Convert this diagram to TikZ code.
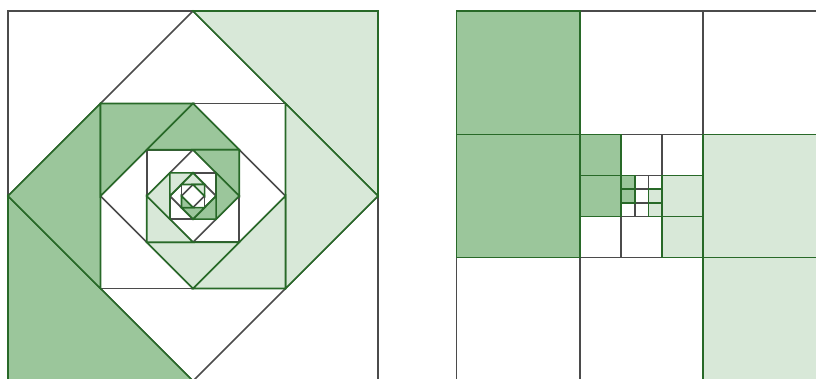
\documentclass[tikz,border=0pt]{standalone}
\usepackage{tikz}
\definecolor{darkfill}{RGB}{155,198,155}
\definecolor{lightfill}{RGB}{216,232,216}
\definecolor{greenline}{RGB}{40,105,40}
\definecolor{greyline}{RGB}{75,75,75}
\begin{document}
\begin{tikzpicture}[line width=1pt, line join=miter,
  grey/.style={draw=greyline},
  dk/.style={fill=darkfill, draw=greenline},
  lt/.style={fill=lightfill, draw=greenline}]
\useasboundingbox (-0.173,0.065) rectangle (17.47,8.238);

%% left: nested squares and diamonds
\draw[grey] (0,0) rectangle (8,8);
\draw[grey] (4,8) -- (8,4) -- (4,0) -- (0,4) -- cycle;
\draw[grey] (2,2) rectangle (6,6);
\draw[grey] (4,6) -- (6,4) -- (4,2) -- (2,4) -- cycle;
\draw[grey] (3,3) rectangle (5,5);
\draw[grey] (4,5) -- (5,4) -- (4,3) -- (3,4) -- cycle;
\draw[grey] (3.5,3.5) rectangle (4.5,4.5);
\draw[grey] (4,4.5) -- (4.5,4) -- (4,3.5) -- (3.5,4) -- cycle;
\draw[grey] (3.75,3.75) rectangle (4.25,4.25);
\draw[grey] (4,4.25) -- (4.25,4) -- (4,3.75) -- (3.75,4) -- cycle;

%% left: shaded triangles
\draw[dk] (0,0) -- (4,0) -- (0,4) -- cycle;
\draw[lt] (8,8) -- (4,8) -- (8,4) -- cycle;

\draw[dk] (0,4) -- (2,2) -- (2,6) -- cycle;
\draw[lt] (8,4) -- (6,6) -- (6,2) -- cycle;

\draw[dk] (2,6) -- (4,6) -- (2,4) -- cycle;
\draw[lt] (6,2) -- (4,2) -- (6,4) -- cycle;

\draw[dk] (4,6) -- (3,5) -- (5,5) -- cycle;
\draw[lt] (4,2) -- (3,3) -- (5,3) -- cycle;

\draw[dk] (5,5) -- (4,5) -- (5,4) -- cycle;
\draw[lt] (3,3) -- (4,3) -- (3,4) -- cycle;

\draw[dk] (5,4) -- (4.5,4.5) -- (4.5,3.5) -- cycle;
\draw[lt] (3,4) -- (3.5,3.5) -- (3.5,4.5) -- cycle;

\draw[dk] (4.5,3.5) -- (4,3.5) -- (4.5,4) -- cycle;
\draw[lt] (3.5,4.5) -- (4,4.5) -- (3.5,4) -- cycle;

\draw[dk] (4,3.5) -- (3.75,3.75) -- (4.25,3.75) -- cycle;
\draw[lt] (4,4.5) -- (3.75,4.25) -- (4.25,4.25) -- cycle;

\draw[dk] (3.75,3.75) -- (4,3.75) -- (3.75,4) -- cycle;
\draw[lt] (4.25,4.25) -- (4,4.25) -- (4.25,4) -- cycle;

%% right: square grids
\begin{scope}[shift={(9.7,0)}]
\draw[grey] (0,0) rectangle (8,8);
\draw[grey] (8/3,0) -- (8/3,8);
\draw[grey] (16/3,0) -- (16/3,8);
\draw[grey] (0,8/3) -- (8,8/3);
\draw[grey] (0,16/3) -- (8,16/3);

\draw[grey] (8/3,8/3) rectangle (16/3,16/3);
\draw[grey] (32/9,8/3) -- (32/9,16/3);
\draw[grey] (40/9,8/3) -- (40/9,16/3);
\draw[grey] (8/3,32/9) -- (16/3,32/9);
\draw[grey] (8/3,40/9) -- (16/3,40/9);

\draw[grey] (104/27,32/9) -- (104/27,40/9);
\draw[grey] (112/27,32/9) -- (112/27,40/9);
\draw[grey] (32/9,104/27) -- (40/9,104/27);
\draw[grey] (32/9,112/27) -- (40/9,112/27);

%% right: shaded cells
\draw[dk] (0,16/3) rectangle (8/3,8);
\draw[dk] (0,8/3) rectangle (8/3,16/3);
\draw[lt] (16/3,8/3) rectangle (8,16/3);
\draw[lt] (16/3,0) rectangle (8,8/3);

\draw[dk] (8/3,40/9) rectangle (32/9,16/3);
\draw[dk] (8/3,32/9) rectangle (32/9,40/9);
\draw[lt] (40/9,32/9) rectangle (16/3,40/9);
\draw[lt] (40/9,8/3) rectangle (16/3,32/9);

\draw[dk] (32/9,112/27) rectangle (104/27,40/9);
\draw[dk] (32/9,104/27) rectangle (104/27,112/27);
\draw[lt] (112/27,104/27) rectangle (40/9,112/27);
\draw[lt] (112/27,32/9) rectangle (40/9,104/27);
\end{scope}
\end{tikzpicture}
\end{document}
